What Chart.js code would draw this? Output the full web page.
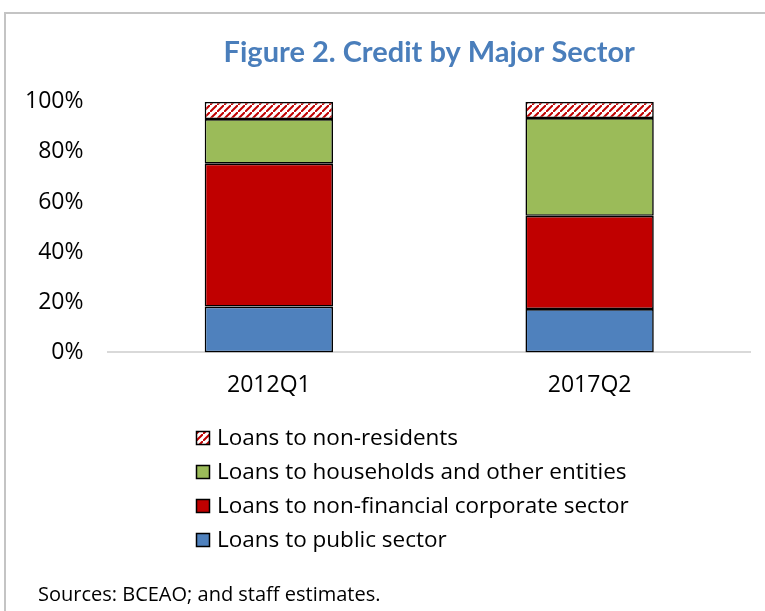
<!DOCTYPE html>
<html>
<head>
<meta charset="utf-8">
<script src="https://cdn.jsdelivr.net/npm/chart.js@4.4.1/dist/chart.umd.min.js"></script>
<style>
  body { margin: 0; background: #fff; }
  #wrap { position: relative; width: 765px; height: 611px; overflow: hidden; }
  #frame { position: absolute; left: 4px; top: 12px; width: 800px; height: 700px; border: 2px solid #c4c4c4; }
  #myChart { position: absolute; left: 0; top: 0; }
</style>
</head>
<body>
<div id="wrap">
  <div id="frame"></div>
  <canvas id="myChart" width="765" height="611"></canvas>
</div>
<script>
// Kategoriler ve seriler (yüzde paylar)
var categories = ["2012Q1", "2017Q2"];
var publicSector = [18.3, 17.3];
var corporateSector = [57.0, 37.2];
var households = [17.8, 39.0];
var nonResidents = [6.9, 6.5];
var yTicks = [0, 20, 40, 60, 80, 100];

// Kırmızı çizgili desen (yurt dışı krediler için)
function makeHatch() {
  var c = document.createElement("canvas");
  c.width = 7;
  c.height = 7;
  var g = c.getContext("2d");
  g.fillStyle = "#ffffff";
  g.fillRect(0, 0, 7, 7);
  g.strokeStyle = "#c00000";
  g.lineWidth = 2;
  g.beginPath();
  g.moveTo(-1, 8);
  g.lineTo(8, -1);
  g.stroke();
  return g.createPattern(c, "repeat");
}

var hatch = makeHatch();

// Dikey lejant ve kaynak notu grafik altına çiziliyor
var legendAndNote = {
  id: "legendAndNote",
  afterDraw: function (chart) {
    var ctx = chart.ctx;
    var sets = chart.data.datasets.slice().reverse();
    ctx.save();
    ctx.font = "22.5px 'Open Sans'";
    ctx.textBaseline = "middle";
    for (var i = 0; i < sets.length; i++) {
      var y = 438 + i * 34;
      ctx.fillStyle = sets[i].backgroundColor;
      ctx.fillRect(196, y - 7, 14, 14);
      ctx.strokeStyle = "#000";
      ctx.lineWidth = 1.5;
      ctx.strokeRect(196.5, y - 6.5, 13, 13);
      ctx.fillStyle = "#000";
      ctx.fillText(sets[i].label, 217, y + 1);
    }
    ctx.font = "20px 'Open Sans'";
    ctx.fillText("Sources: BCEAO; and staff estimates.", 38, 595);
    ctx.restore();
  },
};

var ctx = document.getElementById("myChart").getContext("2d");

var myChart = new Chart(ctx, {
  type: "bar",
  data: {
    labels: categories,
    datasets: [
      { label: "Loans to public sector", data: publicSector, backgroundColor: "#4f81bd" },
      { label: "Loans to non-financial corporate sector", data: corporateSector, backgroundColor: "#c00000" },
      { label: "Loans to households and other entities", data: households, backgroundColor: "#9bbb59" },
      { label: "Loans to non-residents", data: nonResidents, backgroundColor: hatch },
    ],
  },
  options: {
    responsive: false,
    animation: false,
    layout: { padding: { left: 0, right: 15, top: 0, bottom: 193 } },
    datasets: {
      bar: {
        borderColor: "#000",
        borderWidth: 1.6,
        borderSkipped: false,
        categoryPercentage: 1,
        barPercentage: 0.4,
      },
    },
    scales: {
      x: {
        stacked: true,
        grid: { display: false, drawTicks: false },
        border: { display: true, color: "#d9d9d9", width: 2 },
        ticks: { color: "#000", padding: 19, font: { family: "Open Sans", size: 23 } },
      },
      y: {
        stacked: true,
        min: 0,
        max: 100,
        afterBuildTicks: function (axis) {
          axis.ticks = yTicks.map(function (v) { return { value: v }; });
        },
        grid: { display: false, drawTicks: false },
        border: { display: false },
        ticks: {
          color: "#000",
          padding: 25,
          font: { family: "Open Sans", size: 23 },
          callback: function (v) { return v + "%"; },
        },
      },
    },
    plugins: {
      legend: { display: false },
      tooltip: { enabled: false },
      title: {
        display: true,
        fullSize: false,
        text: "Figure 2. Credit by Major Sector",
        color: "#4a7ebb",
        font: { family: "Lato", size: 29, weight: "bold" },
        padding: { top: 35, bottom: 32 },
      },
    },
  },
  plugins: [legendAndNote],
});
</script>
</body>
</html>
